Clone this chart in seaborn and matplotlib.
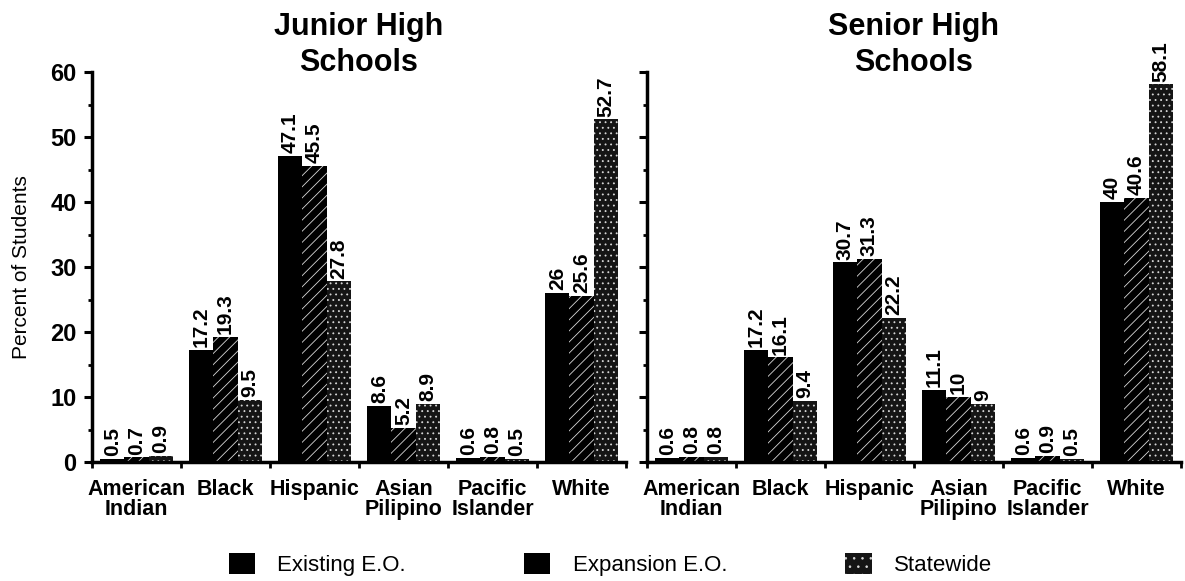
import numpy as np
import pandas as pd
import matplotlib
matplotlib.use("Agg")
import matplotlib.pyplot as plt
from matplotlib.patches import Patch
from matplotlib.ticker import MultipleLocator, FixedLocator
import seaborn as sns

categories = ["American\nIndian", "Black", "Hispanic", "Asian\nPilipino", "Pacific\nIslander", "White"]
series_names = ["Existing E.O.", "Expansion E.O.", "Statewide"]

junior_existing = [0.5, 17.2, 47.1, 8.6, 0.6, 26]
junior_expansion = [0.7, 19.3, 45.5, 5.2, 0.8, 25.6]
junior_statewide = [0.9, 9.5, 27.8, 8.9, 0.5, 52.7]

senior_existing = [0.6, 17.2, 30.7, 11.1, 0.6, 40]
senior_expansion = [0.8, 16.1, 31.3, 10, 0.9, 40.6]
senior_statewide = [0.8, 9.4, 22.2, 9, 0.5, 58.1]

panel_titles = ["Junior High\nSchools", "Senior High\nSchools"]
y_label = "Percent of Students"

sns.set_theme(style="white")
plt.rcParams["font.family"] = ["Liberation Sans", "DejaVu Sans"]
plt.rcParams["hatch.linewidth"] = 0.6
plt.rcParams["text.color"] = "black"
plt.rcParams["axes.labelcolor"] = "black"
plt.rcParams["xtick.color"] = "black"
plt.rcParams["ytick.color"] = "black"

face_colors = ["#000000", "#000000", "#151515"]
hatches = [None, "///", "..."]


def make_df(existing, expansion, statewide):
    rows = []
    for name, vals in zip(series_names, [existing, expansion, statewide]):
        for c, v in zip(categories, vals):
            rows.append({"category": c, "series": name, "value": v})
    return pd.DataFrame(rows)


panels = [
    make_df(junior_existing, junior_expansion, junior_statewide),
    make_df(senior_existing, senior_expansion, senior_statewide),
]

fig = plt.figure(figsize=(11.85, 5.81), dpi=100)
W, H = 1185, 581
ax_left_px = [92, 647]
ax_w_px = 534
y0_px, y60_px = 462, 72
axes = []
for lp in ax_left_px:
    ax = fig.add_axes([lp / W, (H - y0_px) / H, ax_w_px / W, (y0_px - y60_px) / H])
    axes.append(ax)

for i, (ax, df) in enumerate(zip(axes, panels)):
    sns.barplot(data=df, x="category", y="value", hue="series",
                order=categories, hue_order=series_names,
                palette=face_colors, width=0.81, ax=ax, legend=False,
                saturation=1, errorbar=None)
    for cont, hatch, fc in zip(ax.containers, hatches, face_colors):
        for bar in cont:
            bar.set_facecolor(fc)
            bar.set_edgecolor("#d8d8d8")
            bar.set_linewidth(0)
            if hatch:
                bar.set_hatch(hatch)
        labels = [f"{v:g}" for v in cont.datavalues]
        ax.bar_label(cont, labels=labels, rotation=90, padding=2,
                     fontsize=15, fontweight="bold", color="black")

    ax.set_xlim(-0.5, 5.5)
    ax.set_ylim(0, 60)
    ax.set_xlabel("")
    ax.set_ylabel("")
    for s in ["top", "right"]:
        ax.spines[s].set_visible(False)
    ax.spines["left"].set_linewidth(2.5)
    ax.spines["bottom"].set_linewidth(2.5)
    ax.spines["left"].set_color("black")
    ax.spines["bottom"].set_color("black")
    ax.yaxis.set_major_locator(MultipleLocator(10))
    ax.yaxis.set_minor_locator(MultipleLocator(5))
    ax.tick_params(axis="y", which="major", direction="out", length=6, width=2.2,
                   left=True, labelsize=17, color="black", pad=5)
    ax.tick_params(axis="y", which="minor", direction="out", length=3, width=2,
                   left=True, color="black")
    ax.xaxis.set_minor_locator(FixedLocator(np.arange(-0.5, 6.0, 1.0)))
    ax.tick_params(axis="x", which="major", length=0, labelsize=15.5, pad=12)
    ax.tick_params(axis="x", which="minor", direction="out", length=4, width=2,
                   bottom=True, color="black")
    ax.set_xticks(range(len(categories)))
    ax.set_xticklabels(categories, fontweight="bold", linespacing=0.95)
    for t in ax.get_yticklabels():
        t.set_fontweight("bold")
    if i == 1:
        ax.tick_params(axis="y", which="both", labelleft=False)
    ax.grid(False)
    ax.text(0.5, 0.985, panel_titles[i], transform=ax.transAxes, ha="center",
            va="bottom", fontsize=22, fontweight="bold", linespacing=1.25)

axes[0].set_ylabel(y_label, fontsize=15, labelpad=14)

handles = [Patch(facecolor=fc, edgecolor="#d8d8d8", linewidth=0, hatch=h)
           for fc, h in zip(face_colors, [None, None, ".."])]
fig.legend(handles, series_names, loc="center", bbox_to_anchor=(0.515, 0.028),
           ncol=3, frameon=False, fontsize=16, handlelength=1.2, handleheight=1.1,
           handletextpad=1.0, columnspacing=5.3)

fig.savefig("out.png", dpi=100)
